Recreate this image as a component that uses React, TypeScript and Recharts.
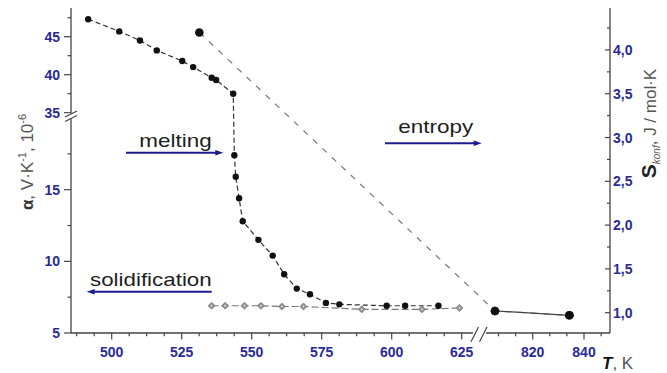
import { Line, LineChart, XAxis, YAxis } from 'recharts';

// heating run (alpha, left axis)
const heatT = [491.6, 502.7, 510.1, 516.1, 525.2, 529.1, 535.7, 537.3, 543.4, 543.8, 544.3, 545.5, 546.8, 552.4, 557.5, 561.6, 566.1, 570.8, 576.5, 581.3, 598.2, 604.8, 616.7];
const heatAlpha = [47.3, 45.7, 44.5, 43.2, 41.8, 41.0, 39.6, 39.3, 37.5, 17.4, 15.9, 14.4, 12.8, 11.5, 10.4, 9.1, 8.1, 7.7, 7.1, 7.0, 6.9, 6.9, 6.9];

// cooling run (alpha, left axis)
const coolT = [535.7, 540.5, 547.4, 553.3, 560.8, 568.5, 589.3, 610.8, 624.2];
const coolAlpha = [6.9, 6.9, 6.9, 6.9, 6.85, 6.85, 6.65, 6.65, 6.75];

// configurational entropy (right axis)
const entropyT = [531.3, 805.3, 834.3];
const entropyS = [4.2, 1.02, 0.97];

const xMajor = [500, 525, 550, 575, 600, 625, 820, 840];
const xMinor = [487.5, 493.75, 506.25, 512.5, 518.75, 531.25, 537.5, 543.75, 556.25, 562.5, 568.75, 581.25, 587.5, 593.75, 606.25, 612.5, 618.75, 806.67, 813.33, 826.67, 833.33, 846.67];
const alphaMajor = [5, 10, 15, 35, 40, 45];
const alphaMinor = [7.5, 12.5, 17.5, 37.5, 42.5, 47.5];
const sMajor = [1, 1.5, 2, 2.5, 3, 3.5, 4];
const sMinor = [1.25, 1.75, 2.25, 2.75, 3.25, 3.75, 4.25];

const AXIS = '#444';
const TICK_BLUE = '#2a2a96';
const ARROW = '#1c1c8f';
const FONT = '"Liberation Sans", Arial, sans-serif';

// broken axes: lower/upper segments mapped onto one continuous scale
const brokenT = (t: number) => (t < 700 ? 40.7 + (t - 500) * 2.8 : 461.7 + (t - 820) * 2.565);
const brokenAlpha = (a: number) => (a < 25 ? (a - 5) * 14.33 : 220.3 + (a - 35) * 7.6);

const heatData = heatT.map((t, i) => ({ u: brokenT(t), v: brokenAlpha(heatAlpha[i]) }));
const coolData = coolT.map((t, i) => ({ u: brokenT(t), v: brokenAlpha(coolAlpha[i]) }));
const entropyData = entropyT.map((t, i) => ({ u: brokenT(t), s: entropyS[i] }));

const xLabels = new Map(xMajor.map((t) => [brokenT(t), String(t)]));
const xTicks = [...xMajor, ...xMinor].map(brokenT);
const yLabels = new Map(alphaMajor.map((a) => [brokenAlpha(a), String(a)]));
const yTicks = [...alphaMajor, ...alphaMinor].map(brokenAlpha);
const sLabels = new Map(sMajor.map((s) => [s, s.toFixed(1).replace('.', ',')]));
const sTicks = [...sMajor, ...sMinor];

const labelStyle = { fontFamily: FONT, fontSize: 14, fontWeight: 700, fill: TICK_BLUE };

function XTick(props: any) {
  const { x, y, payload } = props;
  const label = xLabels.get(payload.value);
  return (
    <g>
      <line x1={x} x2={x} y1={y} y2={y + (label ? 6.5 : 3.3)} stroke={AXIS} strokeWidth={1.2} />
      {label && (
        <text x={x} y={y + 24.4} textAnchor="middle" style={labelStyle}>
          {label}
        </text>
      )}
    </g>
  );
}

function LeftTick(props: any) {
  const { x, y, payload } = props;
  const label = yLabels.get(payload.value);
  return (
    <g>
      <line x1={x - (label ? 7 : 3.5)} x2={x} y1={y} y2={y} stroke={AXIS} strokeWidth={1.2} />
      {label && (
        <text x={x - 11} y={y + 5} textAnchor="end" style={labelStyle}>
          {label}
        </text>
      )}
    </g>
  );
}

function RightTick(props: any) {
  const { x, y, payload } = props;
  const label = sLabels.get(payload.value);
  return (
    <g>
      <line x1={x - (label ? 5 : 3)} x2={x} y1={y} y2={y} stroke={AXIS} strokeWidth={1.2} />
      {label && (
        <text x={x + 3} y={y + 5} textAnchor="start" style={labelStyle}>
          {label}
        </text>
      )}
    </g>
  );
}

const blackDot = (r: number) => (p: any) => <circle key={p.index} cx={p.cx} cy={p.cy} r={r} fill="#111" />;

const diamondDot = (p: any) => {
  const { cx, cy } = p;
  const d = 3.6;
  const k = 1.3;
  return (
    <g key={p.index}>
      <polygon points={`${cx},${cy - d} ${cx + d},${cy} ${cx},${cy + d} ${cx - d},${cy}`} fill="#8c8c8c" stroke="#777" strokeWidth={0.6} />
      <polygon points={`${cx},${cy - k} ${cx + k},${cy} ${cx},${cy + k} ${cx - k},${cy}`} fill="#ddd" />
    </g>
  );
};

function Arrow({ x1, x2, y }: { x1: number; x2: number; y: number }) {
  const dir = x2 > x1 ? 1 : -1;
  return (
    <g>
      <line x1={x1} x2={x2 - dir * 5} y1={y} y2={y} stroke={ARROW} strokeWidth={2} />
      <polygon points={`${x2},${y} ${x2 - dir * 8},${y - 2.8} ${x2 - dir * 8},${y + 2.8}`} fill={ARROW} />
    </g>
  );
}

const noteStyle = { fontFamily: FONT, fontSize: 19, fill: '#1e1e1e' };

export default function App() {
  return (
    <div style={{ position: 'absolute', left: 0, top: 0, width: 667, height: 373, background: '#fff' }}>
      <LineChart width={667} height={373} margin={{ top: 8, right: 0, bottom: 0, left: 0 }}>
        <XAxis
          dataKey="u"
          type="number"
          domain={[0, 539]}
          ticks={xTicks}
          interval={0}
          height={40}
          tickSize={0}
          tickMargin={0}
          tickLine={false}
          axisLine={{ stroke: AXIS, strokeWidth: 1.3 }}
          tick={<XTick />}
          allowDataOverflow
        />
        <YAxis
          yAxisId="left"
          type="number"
          domain={[0, 325]}
          ticks={yTicks}
          interval={0}
          width={71}
          tickSize={0}
          tickMargin={0}
          tickLine={false}
          axisLine={{ stroke: AXIS, strokeWidth: 1.3 }}
          tick={<LeftTick />}
          allowDataOverflow
        />
        <YAxis
          yAxisId="right"
          orientation="right"
          type="number"
          domain={[0.768, 4.479]}
          ticks={sTicks}
          interval={0}
          width={57}
          tickSize={0}
          tickMargin={0}
          tickLine={false}
          axisLine={{ stroke: AXIS, strokeWidth: 1.3 }}
          tick={<RightTick />}
          allowDataOverflow
        />
        <Line
          yAxisId="right"
          data={entropyData}
          dataKey="s"
          stroke="#777"
          strokeWidth={1.2}
          strokeDasharray="6 7"
          dot={blackDot(4.3)}
          isAnimationActive={false}
        />
        <Line
          yAxisId="right"
          data={entropyData.slice(1)}
          dataKey="s"
          stroke="#444"
          strokeWidth={1.2}
          dot={blackDot(4.3)}
          isAnimationActive={false}
        />
        <Line
          yAxisId="left"
          data={coolData}
          dataKey="v"
          stroke="#777"
          strokeWidth={1.2}
          strokeDasharray="7 3"
          dot={diamondDot}
          isAnimationActive={false}
        />
        <Line
          yAxisId="left"
          data={heatData}
          dataKey="v"
          stroke="#333"
          strokeWidth={1.2}
          strokeDasharray="5 3"
          dot={blackDot(3.2)}
          isAnimationActive={false}
        />
      </LineChart>
      <svg width={667} height={373} style={{ position: 'absolute', left: 0, top: 0, pointerEvents: 'none' }}>
        {/* axis breaks */}
        <rect x={67} y={113.5} width={8} height={5.5} fill="#fff" />
        <line x1={65} y1={117} x2={77} y2={111} stroke={AXIS} strokeWidth={1.2} />
        <line x1={65} y1={121.5} x2={77} y2={115.5} stroke={AXIS} strokeWidth={1.2} />
        <rect x={473} y={330} width={13} height={6} fill="#fff" />
        <line x1={471} y1={341.7} x2={478.5} y2={327} stroke={AXIS} strokeWidth={1.2} />
        <line x1={479.5} y1={341.7} x2={487} y2={327} stroke={AXIS} strokeWidth={1.2} />

        {/* annotations */}
        <text x={139.3} y={146.7} textLength={72.4} lengthAdjust="spacingAndGlyphs" style={noteStyle}>melting</text>
        <Arrow x1={126} x2={223.3} y={152.7} />
        <text x={398.3} y={133.3} textLength={75} lengthAdjust="spacingAndGlyphs" style={noteStyle}>entropy</text>
        <Arrow x1={385} x2={481.7} y={143.3} />
        <text x={90} y={285.7} textLength={121.7} lengthAdjust="spacingAndGlyphs" style={noteStyle}>solidification</text>
        <Arrow x1={211.7} x2={86.7} y={291.7} />

        {/* axis titles */}
        <text
          transform="translate(33,162) rotate(-90)"
          textAnchor="middle"
          style={{ fontFamily: FONT, fontSize: 17, fill: '#555' }}
        >
          <tspan fontWeight={700} fill="#333">α</tspan>
          <tspan>, V·K</tspan>
          <tspan dy={-7} fontSize={11}>-1</tspan>
          <tspan dy={7}>, 10</tspan>
          <tspan dy={-7} fontSize={11}>-6</tspan>
        </text>
        <text
          transform="translate(656,123.5) rotate(-90)"
          textAnchor="middle"
          style={{ fontFamily: FONT, fontSize: 17, fill: '#555' }}
        >
          <tspan fontWeight={700} fontSize={21} fill="#222">S</tspan>
          <tspan dy={4} fontSize={10} fontStyle="italic">konf</tspan>
          <tspan dy={-4}>, J / mol·K</tspan>
        </text>
        <text x={602} y={369} style={{ fontFamily: FONT, fontSize: 17, fill: '#555' }}>
          <tspan fontWeight={700} fontStyle="italic" fill="#111">T</tspan>
          <tspan>, K</tspan>
        </text>
      </svg>
    </div>
  );
}
